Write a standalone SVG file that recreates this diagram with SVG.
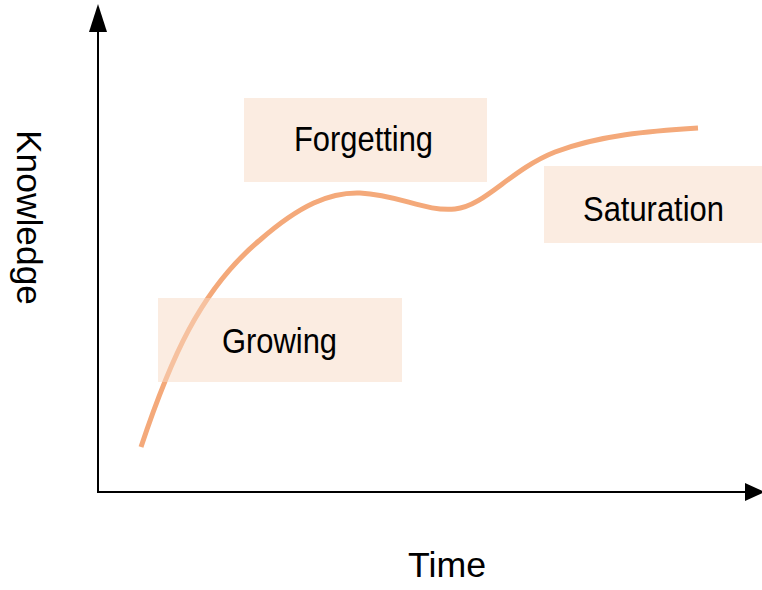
<svg xmlns="http://www.w3.org/2000/svg" width="762" height="590" viewBox="0 0 762 590">
<style>
.box{fill:#F7D9C4;fill-opacity:0.5}
.lbl{font-family:"Liberation Sans",Arial,sans-serif;font-size:35px;fill:#000}
.axis{stroke:#000;stroke-width:2;fill:none}
.head{fill:#000}
.curve{stroke:#F4A97A;stroke-width:5;fill:none;stroke-linecap:butt}
</style>
<rect width="762" height="590" fill="#fff"/>
<g id="connectors">
<line class="axis" x1="98" y1="492" x2="98" y2="28"/>
<polygon class="head" points="98,4 89,32 107,32"/>
<line class="axis" x1="97" y1="492" x2="748" y2="492"/>
<polygon class="head" points="745,483 765,492 745,501"/>
<path id="curve" class="curve" d="M141,447 C170,360 200,290 260,240 C300,205 330,192 360,193 C400,195 425,212 455,209 C485,206 510,170 555,152 C600,135 650,131 698,128"/>
</g>
<g id="forgetting">
<rect class="box" x="244" y="98" width="243" height="84"/>
<text class="lbl" x="294" y="151" textLength="139" lengthAdjust="spacingAndGlyphs">Forgetting</text>
</g>
<g id="saturation">
<rect class="box" x="544" y="166" width="218" height="77"/>
<text class="lbl" x="583" y="221" textLength="141" lengthAdjust="spacingAndGlyphs">Saturation</text>
</g>
<g id="growing">
<rect class="box" x="158" y="298" width="244" height="84"/>
<text class="lbl" x="222" y="353" textLength="115" lengthAdjust="spacingAndGlyphs">Growing</text>
</g>
<g id="axis-labels">
<text class="lbl" transform="translate(17,130) rotate(90)" textLength="175" lengthAdjust="spacingAndGlyphs">Knowledge</text>
<text class="lbl" x="408" y="577" textLength="78" lengthAdjust="spacingAndGlyphs">Time</text>
</g>
</svg>
